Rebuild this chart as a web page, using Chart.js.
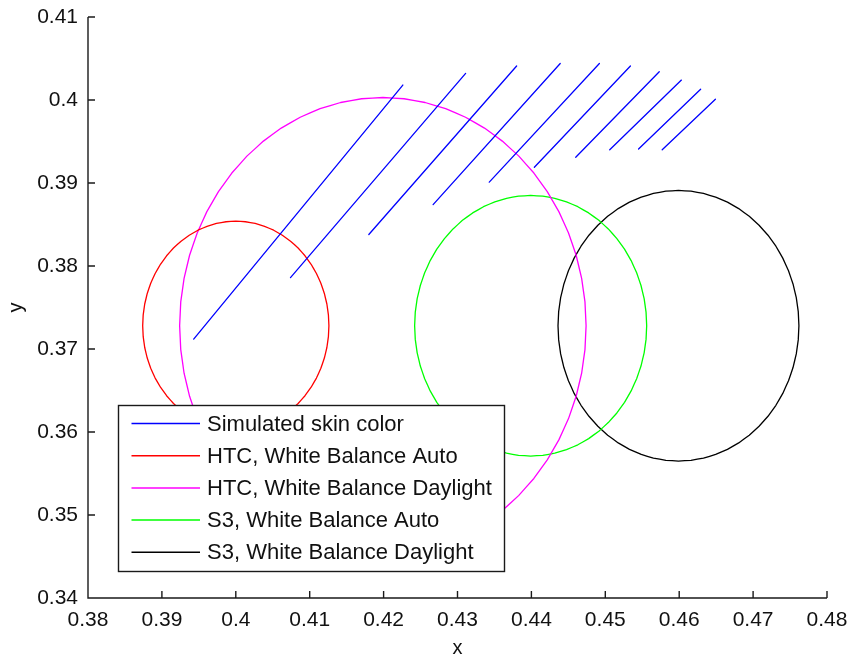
<!DOCTYPE html>
<html>
<head>
<meta charset="utf-8">
<script src="https://cdn.jsdelivr.net/npm/chart.js@4.4.1/dist/chart.umd.min.js"></script>
<style>
    html, body { margin: 0; padding: 0; background: #fff; }
    #wrap { width: 848px; height: 658px; }
</style>
</head>
<body>
<div id="wrap"><canvas id="plot" width="848" height="658"></canvas></div>
<script>
// Axis ticks
const xTicks = [0.38, 0.39, 0.40, 0.41, 0.42, 0.43, 0.44, 0.45, 0.46, 0.47, 0.48];
const xTickLabels = ['0.38', '0.39', '0.4', '0.41', '0.42', '0.43', '0.44', '0.45', '0.46', '0.47', '0.48'];
const yTicks = [0.34, 0.35, 0.36, 0.37, 0.38, 0.39, 0.40, 0.41];
const yTickLabels = ['0.34', '0.35', '0.36', '0.37', '0.38', '0.39', '0.4', '0.41'];

// Simulated skin color segments (start -> end chromaticity)
const skinStartX = [0.3943, 0.4074, 0.4180, 0.4267, 0.4343, 0.4404, 0.4460, 0.4506, 0.4545, 0.4577];
const skinStartY = [0.3712, 0.3786, 0.3838, 0.3874, 0.3901, 0.3919, 0.3931, 0.3940, 0.3941, 0.3940];
const skinEndX = [0.4226, 0.4311, 0.4380, 0.4439, 0.4492, 0.4534, 0.4573, 0.4603, 0.4629, 0.4649];
const skinEndY = [0.4018, 0.4032, 0.4041, 0.4044, 0.4044, 0.4041, 0.4034, 0.4024, 0.4013, 0.4001];

// Camera tolerance circles: centre and radius in xy
const circleNames = ['HTC, White Balance Auto', 'HTC, White Balance Daylight', 'S3, White Balance Auto', 'S3, White Balance Daylight'];
const circleCx = [0.4000, 0.4199, 0.4399, 0.4599];
const circleCy = [0.3728, 0.3728, 0.3728, 0.3728];
const circleR = [0.0126, 0.0275, 0.0157, 0.0163];

const skinName = 'Simulated skin color';

const colors = {
    skin: '#0000ff',
    circles: ['#ff0000', '#ff00ff', '#00ff00', '#000000'],
    axis: '#1a1a1a',
    text: '#111111',
};

function skinSegments() {
    const pts = [];
    skinStartX.forEach((x0, i) => {
        pts.push({ x: x0, y: skinStartY[i] });
        pts.push({ x: skinEndX[i], y: skinEndY[i] });
        pts.push({ x: skinEndX[i], y: null });
    });
    return pts;
}

function circleOutline(i) {
    const pts = [];
    const n = 60;
    for (let k = 0; k <= n; k++) {
        const t = 2 * Math.PI * k / n;
        pts.push({ x: circleCx[i] + circleR[i] * Math.cos(t), y: circleCy[i] + circleR[i] * Math.sin(t) });
    }
    return pts;
}

const datasets = [{
    label: skinName,
    data: skinSegments(),
    borderColor: colors.skin,
    tension: 0,
}].concat(circleNames.map((name, i) => ({
    label: name,
    data: circleOutline(i),
    borderColor: colors.circles[i],
    // tiny tension keeps Chart.js off its x-sorted fast path for closed outlines
    tension: 0.001,
})));
datasets.forEach(d => {
    d.showLine = true;
    d.spanGaps = false;
    d.borderWidth = 1.3;
    d.borderCapStyle = 'round';
    d.borderJoinStyle = 'round';
    d.pointRadius = 0;
});

// Left/bottom axis lines with inward ticks
const axesPlugin = {
    id: 'axesPlugin',
    afterDatasetsDraw(chart) {
        const ctx = chart.ctx;
        const a = chart.chartArea;
        const sx = chart.scales.x, sy = chart.scales.y;
        ctx.save();
        ctx.strokeStyle = colors.axis;
        ctx.lineWidth = 1.4;
        ctx.beginPath();
        ctx.moveTo(a.left, a.top);
        ctx.lineTo(a.left, a.bottom);
        ctx.lineTo(a.right, a.bottom);
        xTicks.forEach(v => {
            const px = sx.getPixelForValue(v);
            ctx.moveTo(px, a.bottom);
            ctx.lineTo(px, a.bottom - 7);
        });
        yTicks.forEach(v => {
            const py = sy.getPixelForValue(v);
            ctx.moveTo(a.left, py);
            ctx.lineTo(a.left + 7, py);
        });
        ctx.stroke();
        ctx.restore();
    }
};

// Boxed legend inside the plot area
const legendPlugin = {
    id: 'boxLegend',
    afterDraw(chart) {
        const ctx = chart.ctx;
        const left = 118.5, top = 405.5, right = 504.5, bottom = 571.5;
        ctx.save();
        ctx.fillStyle = '#ffffff';
        ctx.fillRect(left, top, right - left, bottom - top);
        ctx.strokeStyle = colors.axis;
        ctx.lineWidth = 1.4;
        ctx.strokeRect(left, top, right - left, bottom - top);
        ctx.font = '22px "Liberation Sans", Arial, sans-serif';
        ctx.textBaseline = 'middle';
        ctx.fillStyle = colors.text;
        chart.data.datasets.forEach((d, i) => {
            const y = top + 18 + i * 32.2;
            ctx.strokeStyle = d.borderColor;
            ctx.lineWidth = 1.5;
            ctx.beginPath();
            ctx.moveTo(131.5, y);
            ctx.lineTo(200, y);
            ctx.stroke();
            ctx.fillText(d.label, 207, y + 1);
        });
        ctx.restore();
    }
};

const tickFont = { family: '"Liberation Sans", Arial, sans-serif', size: 21 };

new Chart(document.getElementById('plot'), {
    type: 'scatter',
    data: { datasets },
    options: {
        responsive: false,
        animation: false,
        layout: { padding: { top: 17, right: 21, left: 0, bottom: 0 } },
        plugins: {
            legend: { display: false },
            tooltip: { enabled: false },
        },
        scales: {
            x: {
                type: 'linear',
                min: 0.38,
                max: 0.48,
                grid: { display: false, drawTicks: false },
                border: { display: false },
                afterBuildTicks: s => { s.ticks = xTicks.map(v => ({ value: v })); },
                afterFit: s => {
                    s.height = 60;
                    s.paddingLeft = 0;
                    s.paddingRight = 0;
                },
                ticks: {
                    color: colors.text,
                    font: tickFont,
                    padding: 10,
                    maxRotation: 0,
                    autoSkip: false,
                    callback: (v, i) => xTickLabels[i],
                },
                title: {
                    display: true,
                    text: 'x',
                    color: colors.text,
                    font: { family: tickFont.family, size: 20, lineHeight: 1 },
                    padding: { top: 0, bottom: 0 },
                },
            },
            y: {
                type: 'linear',
                min: 0.34,
                max: 0.41,
                grid: { display: false, drawTicks: false },
                border: { display: false },
                afterBuildTicks: s => { s.ticks = yTicks.map(v => ({ value: v })); },
                afterFit: s => {
                    s.width = 88;
                    s.paddingTop = 0;
                    s.paddingBottom = 0;
                },
                ticks: {
                    color: colors.text,
                    font: tickFont,
                    padding: 10,
                    autoSkip: false,
                    callback: (v, i) => yTickLabels[i],
                },
                title: {
                    display: true,
                    text: 'y',
                    color: colors.text,
                    font: { family: tickFont.family, size: 20 },
                    padding: { top: 4, bottom: 0 },
                },
            },
        },
    },
    plugins: [axesPlugin, legendPlugin],
});
</script>
</body>
</html>
